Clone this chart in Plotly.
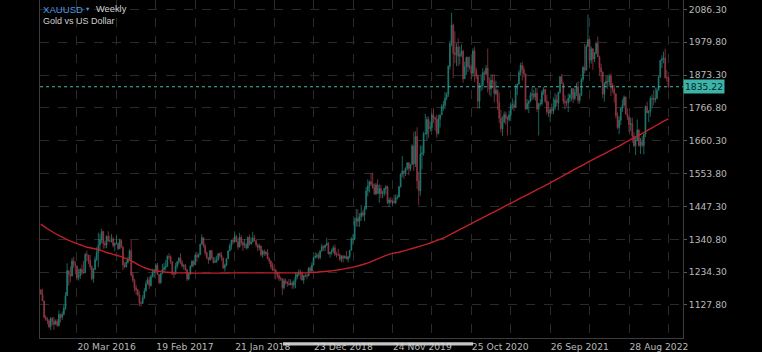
import plotly.graph_objects as go
import pandas as pd

# ---------------- data (weekly XAUUSD, week start dates) ----------------
first_week = "2015-10-18"
first_open = 1177

close_vals = [
    # 2015
    1163,1141,1088,1081,1076,1057,1084,1075,1065,1075,1061,
    # 2016
    1097,1088,1097,1117,1158,1239,1227,1222,1270,1259,1254,1217,1222,1243,1235,1232,1291,1290,1272,1252,1213,1243,1275,1298,1322,1339,
    1366,1327,1322,1351,1335,1335,1341,1321,1327,1328,1310,1337,1315,1257,1251,1266,1276,1304,1224,1208,1183,1177,1160,1134,1133,1151,
    # 2017
    1173,1196,1210,1191,1220,1234,1239,1257,1226,1201,1229,1243,1249,1254,1285,1284,1268,1228,1228,1253,1268,1280,1266,1254,1256,1242,
    1212,1228,1254,1269,1258,1289,1284,1291,1325,1346,1320,1297,1280,1274,1304,1280,1266,1269,1275,1294,1288,1280,1248,1257,1278,1303,
    # 2018
    1320,1338,1333,1350,1333,1316,1347,1330,1322,1324,1313,1347,1325,1332,1345,1336,1323,1314,1319,1291,1302,1294,1298,1279,1270,1252,
    1241,1241,1231,1223,1214,1212,1184,1206,1201,1196,1194,1199,1192,1203,1218,1227,1235,1233,1209,1222,1223,1222,1248,1238,1257,1281,
    # 2019
    1285,1289,1282,1303,1318,1314,1322,1328,1294,1299,1302,1313,1292,1291,1290,1276,1286,1280,1285,1277,1284,1305,1341,1341,1399,1409,
    1399,1415,1426,1419,1440,1497,1513,1527,1520,1507,1488,1517,1489,1505,1489,1490,1505,1511,1459,1468,1462,1464,1460,1476,1478,1511,
    # 2020
    1552,1562,1557,1571,1589,1570,1584,1643,1585,1674,1530,1498,1617,1620,1683,1683,1729,1700,1703,1743,1735,1730,1684,1730,1744,1771,
    1775,1798,1810,1902,1975,2035,1944,1940,1964,1934,1940,1950,1861,1900,1930,1900,1902,1879,1951,1889,1871,1788,1839,1839,1881,1877,
    # 2021
    1895,1849,1828,1856,1848,1813,1824,1784,1734,1699,1720,1745,1733,1729,1744,1777,1777,1769,1831,1844,1881,1905,1891,1877,1764,1781,
    1787,1808,1812,1802,1814,1763,1780,1781,1818,1827,1788,1754,1750,1761,1757,1768,1793,1783,1818,1868,1846,1788,1783,1783,1798,1808,
    # 2022
    1829,1797,1817,1835,1791,1807,1859,1898,1889,1966,1988,1921,1958,1925,1945,1975,1932,1897,1883,1811,1846,1853,1851,1871,1840,1827,
    1812,1742,1703,1727,1766,1775,1802,1747,1738,1712,1716,1675,1644,1660,1695,1644,1657,1645,1681,1771,1751,1755,1797,1797,1793,1798,1824,
    # 2023
    1866,1921,1926,1928,1865,1865,1835.22,
]

high_vals = [
    1178,1180,1142,1095,1088,1081,1089,1088,1089,1081,1082,
    1110,1100,1107,1128,1170,1263,1240,1253,1280,1284,1270,1255,1245,1248,1259,1271,1297,1304,1290,1290,1256,1248,1285,1315,1362,1358,
    1375,1368,1336,1353,1367,1352,1358,1348,1331,1352,1330,1343,1341,1318,1266,1273,1284,1308,1338,1235,1212,1193,1180,1172,1140,1160,
    1183,1207,1219,1220,1226,1245,1244,1263,1264,1227,1233,1261,1264,1273,1289,1296,1289,1270,1236,1264,1270,1283,1296,1274,1260,1261,
    1243,1232,1256,1273,1274,1293,1301,1295,1326,1357,1341,1326,1301,1284,1306,1306,1284,1283,1288,1297,1299,1299,1280,1262,1279,1305,
    1327,1339,1345,1366,1355,1346,1362,1354,1336,1341,1330,1350,1356,1347,1365,1354,1338,1327,1326,1321,1307,1308,1303,1309,1282,1272,
    1265,1260,1245,1236,1236,1220,1215,1214,1214,1206,1212,1211,1206,1210,1233,1233,1243,1243,1237,1225,1230,1228,1250,1253,1267,1283,
    1298,1297,1297,1305,1326,1320,1323,1346,1332,1300,1311,1320,1324,1300,1310,1295,1289,1290,1289,1303,1287,1306,1348,1358,1411,1439,
    1438,1425,1452,1434,1449,1510,1535,1531,1555,1557,1522,1523,1535,1519,1517,1498,1507,1516,1515,1475,1478,1466,1484,1487,1485,1514,
    1553,1611,1564,1574,1589,1591,1584,1649,1689,1691,1704,1560,1645,1644,1690,1747,1739,1738,1722,1751,1765,1738,1745,1744,1745,1779,
    1789,1818,1817,1904,1984,2075,2040,2015,1976,1992,1966,1973,1955,1917,1933,1933,1933,1911,1960,1965,1897,1875,1848,1875,1896,1888,
    1906,1959,1865,1875,1876,1875,1855,1826,1816,1760,1740,1755,1755,1740,1758,1784,1798,1790,1843,1845,1890,1913,1916,1903,1879,1795,
    1793,1818,1834,1825,1832,1832,1783,1795,1824,1834,1828,1809,1788,1765,1781,1800,1814,1810,1818,1869,1877,1849,1808,1794,1814,1812,
    1831,1831,1829,1848,1853,1815,1865,1902,1974,1973,2070,1990,1966,1960,1948,1982,1998,1936,1910,1885,1850,1870,1874,1876,1879,1847,
    1841,1814,1752,1739,1767,1795,1807,1803,1765,1740,1735,1735,1688,1675,1729,1697,1669,1675,1683,1774,1787,1760,1804,1810,1824,1833,1833,
    1871,1922,1937,1949,1959,1890,1869,
]

low_vals = [
    1162,1141,1085,1077,1065,1052,1046,1062,1047,1065,1057,
    1058,1071,1080,1094,1111,1158,1191,1201,1220,1247,1227,1208,1207,1212,1225,1229,1231,1268,1261,1242,1208,1200,1242,1270,1250,1307,
    1328,1310,1311,1312,1334,1331,1330,1314,1302,1324,1305,1309,1315,1241,1247,1250,1262,1272,1220,1201,1171,1161,1156,1124,1123,1132,
    1147,1172,1195,1180,1187,1217,1216,1232,1225,1195,1196,1228,1236,1240,1251,1276,1260,1225,1214,1230,1246,1259,1260,1248,1242,1238,
    1205,1208,1226,1249,1251,1257,1267,1279,1290,1323,1314,1288,1277,1261,1272,1276,1262,1264,1264,1272,1281,1271,1245,1236,1254,1277,
    1302,1307,1325,1330,1331,1307,1314,1321,1303,1313,1307,1310,1320,1325,1331,1334,1315,1302,1305,1285,1281,1286,1288,1276,1261,1245,
    1238,1239,1211,1215,1205,1206,1160,1178,1195,1187,1191,1192,1180,1181,1182,1210,1221,1211,1206,1196,1218,1211,1221,1235,1236,1256,
    1279,1279,1276,1276,1301,1303,1302,1319,1291,1281,1290,1296,1287,1281,1286,1270,1266,1266,1278,1275,1266,1278,1305,1323,1338,1382,
    1381,1381,1401,1412,1400,1437,1480,1492,1514,1505,1485,1484,1489,1459,1474,1474,1480,1486,1456,1445,1456,1451,1456,1455,1470,1477,
    1508,1542,1536,1546,1564,1548,1562,1582,1563,1575,1504,1451,1482,1567,1611,1680,1660,1670,1690,1692,1718,1693,1670,1680,1703,1744,
    1757,1763,1791,1802,1891,1966,1863,1911,1902,1902,1907,1932,1848,1862,1873,1883,1891,1860,1868,1850,1860,1764,1765,1820,1826,1855,
    1871,1817,1808,1803,1831,1785,1808,1760,1717,1687,1676,1717,1712,1677,1722,1724,1762,1756,1768,1808,1843,1871,1855,1866,1761,1760,
    1750,1786,1792,1794,1790,1754,1677,1772,1775,1808,1782,1745,1737,1721,1746,1746,1760,1771,1759,1812,1846,1778,1762,1771,1753,1785,
    1789,1782,1791,1805,1780,1781,1806,1851,1878,1890,1966,1895,1910,1890,1915,1940,1932,1872,1851,1798,1787,1838,1828,1836,1805,1816,
    1784,1732,1698,1681,1711,1754,1773,1745,1727,1688,1691,1654,1639,1614,1660,1641,1617,1638,1616,1672,1749,1721,1738,1765,1775,1784,1795,
    1828,1865,1896,1911,1861,1852,1830,
]

# moving average, one value every 4 weeks (+ last week)
ma_vals = [
    1390,1375,1362,1350,1340,1331,1323,1315,1311,1306,1298,1292,1286,1278,1268,1256,1247,1241,1237,1234,1233,
    1232,1232,1231,1231,1231,1231,1231,1231,1232,1232,1232,1232,1232,1232,1232,1232,1232,1232,1232,1232,
    1233,1234,1236,1238,1241,1244,1248,1253,1259,1266,1275,1284,1292,1297,1302,1308,1314,1320,1327,1335,
    1343,1353,1364,1375,1386,1397,1408,1419,1430,1441,1452,1463,1474,1485,1496,1507,1518,1529,1541,1553,
    1565,1576,1588,1599,1610,1621,1632,1643,1656,1667,1678,1690,1702,1714,1726,
    1731,
]

y_ticks = [1127.80, 1234.30, 1340.80, 1447.30, 1553.80, 1660.30, 1766.80, 1873.30, 1979.80, 2086.30]
x_tick_dates = ["2016-03-20", "2017-02-19", "2018-01-21", "2018-12-23",
                "2019-11-24", "2020-10-25", "2021-09-26", "2022-08-28"]
x_mid_dates = ["2016-09-04", "2017-08-06", "2018-07-08", "2019-06-09",
               "2020-05-10", "2021-04-11", "2022-03-13", "2023-02-12"]
last_price = 1835.22

n = len(close_vals)
if not (len(high_vals) == n and len(low_vals) == n):
    raise SystemExit(f"length mismatch {n} {len(high_vals)} {len(low_vals)}")

weeks = pd.date_range(first_week, periods=n, freq="7D")
open_vals = [first_open] + close_vals[:-1]
ma_dates = list(weeks[::4]) + [weeks[-1]]
if len(ma_dates) != len(ma_vals):
    raise SystemExit(f"ma mismatch {len(ma_dates)} {len(ma_vals)}")

# ---------------- figure ----------------
W, H = 762, 352
ML, MR, MT, MB = 40, 79, 0, 14
PW, PH = W - ML - MR, H - MT - MB

def px_x(x):
    return (x - ML) / PW

def px_y(y):
    return (PH - (y - MT)) / PH

UP = "#238a7f"
DN = "#a23f4c"
TXT = "#b9b9b9"
GRID = "#2a2a2a"
AXFONT = dict(family="DejaVu Sans", size=9.2, color=TXT)

fig = go.Figure()
fig.add_trace(go.Candlestick(
    x=weeks, open=open_vals, high=high_vals, low=low_vals, close=close_vals,
    increasing=dict(line=dict(color=UP, width=0.8), fillcolor=UP),
    decreasing=dict(line=dict(color=DN, width=0.8), fillcolor=DN),
    whiskerwidth=0, showlegend=False, hoverinfo="skip", opacity=0.9,
))
fig.add_trace(go.Scatter(
    x=ma_dates, y=ma_vals, mode="lines",
    line=dict(color="#bf2029", width=1.4, shape="spline", smoothing=0.6),
    showlegend=False, hoverinfo="skip",
))

all_grid = sorted(x_tick_dates + x_mid_dates)
all_text = [pd.Timestamp(d).strftime("%d %b %Y") if d in x_tick_dates else "" for d in all_grid]

fig.update_layout(
    width=W, height=H,
    margin=dict(l=ML, r=MR, t=MT, b=MB, pad=0),
    paper_bgcolor="#000000", plot_bgcolor="#000000",
    showlegend=False,
    xaxis=dict(
        type="date", range=["2015-10-14 10:00", "2023-04-15"],
        tickmode="array", tickvals=all_grid, ticktext=all_text,
        ticklabelposition="outside right",
        showgrid=True, gridcolor=GRID, griddash="dash", gridwidth=1,
        showline=True, linecolor="#3c3c3c", linewidth=1, mirror=True,
        ticks="", tickfont=AXFONT, zeroline=False,
        rangeslider=dict(visible=False), fixedrange=True, automargin=False,
    ),
    yaxis=dict(
        side="right", range=[1020.8, 2116.4],
        tickmode="array", tickvals=y_ticks, ticktext=[f"{v:.2f}" for v in y_ticks],
        showgrid=True, gridcolor=GRID, griddash="dash", gridwidth=1,
        showline=True, linecolor="#3c3c3c", linewidth=1, mirror=True,
        ticks="outside", ticklen=3, tickcolor="#5a5a5a", tickwidth=1,
        tickfont=AXFONT, zeroline=False, fixedrange=True, automargin=False,
    ),
)

# current price dotted line
fig.add_shape(type="line", xref="paper", yref="y", x0=0, x1=1, y0=last_price, y1=last_price,
              line=dict(color="#3fbcae", width=1, dash="dot"))
fig.add_annotation(xref="paper", yref="y", x=1, y=last_price, xanchor="left", yanchor="middle",
                   text=f"{last_price:.2f}", showarrow=False, bgcolor="#3db4aa",
                   borderpad=1, font=dict(family="DejaVu Sans", size=9.2, color="#072421"))

# title
TFONT = "Liberation Sans"
fig.add_annotation(xref="paper", yref="paper", x=px_x(41), y=px_y(9), xanchor="left", yanchor="middle",
                   text="XAUUSD", showarrow=False, font=dict(family=TFONT, size=9.6, color="#4f9be3"))
fig.add_annotation(xref="paper", yref="paper", x=px_x(84), y=px_y(9.5), xanchor="left", yanchor="middle",
                   text="▾", showarrow=False, font=dict(family="DejaVu Sans", size=6.5, color="#4f9be3"))
fig.add_annotation(xref="paper", yref="paper", x=px_x(93.5), y=px_y(9), xanchor="left", yanchor="middle",
                   text="Weekly", showarrow=False, font=dict(family=TFONT, size=9.3, color="#d4d4d4"))
fig.add_annotation(xref="paper", yref="paper", x=px_x(41), y=px_y(21), xanchor="left", yanchor="middle",
                   text="Gold vs US Dollar", showarrow=False, font=dict(family=TFONT, size=9.0, color="#cfcfcf"))

# phone home-indicator bar overlay
fig.add_shape(type="rect", xref="paper", yref="paper", layer="above",
              x0=px_x(283), x1=px_x(473), y0=px_y(345.5), y1=px_y(342.2),
              fillcolor="#dcdcdc", line=dict(width=0), opacity=0.9)

fig.write_html("out.html", config=dict(displayModeBar=False, staticPlot=True))
